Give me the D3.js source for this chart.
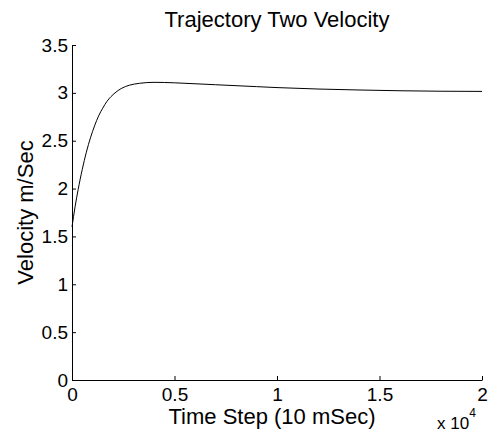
<!DOCTYPE html>
<html>
<head>
<meta charset="utf-8">
<script src="https://cdn.jsdelivr.net/npm/d3@7"></script>
<style>
  body { margin: 0; background: #fff; }
  text { font-family: Arial, "Liberation Sans", sans-serif; fill: #000; }
</style>
</head>
<body>
<svg width="489" height="433"></svg>
<script>
// time step and velocity
var timeSteps = [0, 150, 300, 500, 700, 900, 1100, 1300, 1500, 1700, 1900, 2100, 2400, 2800, 3300, 4000,
                 5000, 6000, 7000, 8000, 9000, 10000, 12000, 14000, 16000, 18000, 20000];
var velocity = [1.60, 1.81, 1.99, 2.20, 2.38, 2.53, 2.655, 2.76, 2.84, 2.91, 2.96, 3.0, 3.045, 3.08, 3.10, 3.11,
                3.105, 3.095, 3.085, 3.075, 3.065, 3.055, 3.04, 3.03, 3.022, 3.017, 3.015];
var xTicks = [0, 5000, 10000, 15000, 20000];
var yTicks = [0, 0.5, 1, 1.5, 2, 2.5, 3, 3.5];

var svg = d3.select("svg");
var mLeft = 72, mTop = 45, w = 410, h = 335;

var x = d3.scaleLinear().domain([0, 20000]).range([0, w]);
var y = d3.scaleLinear().domain([0, 3.5]).range([h, 0]);

var g = svg.append("g").attr("transform", "translate(" + mLeft + "," + mTop + ")");

var xAxis = d3.axisBottom(x).tickValues(xTicks).tickSizeInner(-4).tickSizeOuter(0)
    .tickPadding(6).tickFormat(function(d) { return d3.format("")(d / 10000); });
var yAxis = d3.axisLeft(y).tickValues(yTicks).tickSizeInner(-4).tickSizeOuter(0)
    .tickPadding(6).tickFormat(d3.format(""));

var gx = g.append("g").attr("transform", "translate(0," + h + ")").call(xAxis);
var gy = g.append("g").call(yAxis);

gx.selectAll("text").attr("font-size", 19).attr("font-family", "Arial, 'Liberation Sans', sans-serif").attr("dy", "0.75em").attr("y", 7);
gy.selectAll("text").attr("font-size", 19).attr("font-family", "Arial, 'Liberation Sans', sans-serif").attr("x", -4);
svg.selectAll(".domain").attr("stroke", "#000");
svg.selectAll(".tick line").attr("stroke", "#000");

var line = d3.line()
    .x(function(d, i) { return x(timeSteps[i]); })
    .y(function(d) { return y(d); })
    .curve(d3.curveMonotoneX);

g.append("path")
    .datum(velocity)
    .attr("fill", "none")
    .attr("stroke", "#000")
    .attr("stroke-width", 1)
    .attr("d", line);

svg.append("text")
    .attr("x", mLeft + w / 2)
    .attr("y", 27)
    .attr("text-anchor", "middle")
    .attr("font-size", 22)
    .text("Trajectory Two Velocity");

svg.append("text")
    .attr("x", mLeft + w / 2 - 5)
    .attr("y", 424)
    .attr("text-anchor", "middle")
    .attr("font-size", 22)
    .text("Time Step (10 mSec)");

svg.append("text")
    .attr("transform", "translate(33," + (mTop + h / 2) + ") rotate(-90)")
    .attr("text-anchor", "middle")
    .attr("font-size", 22)
    .text("Velocity m/Sec");

var exp = svg.append("text")
    .attr("x", 437)
    .attr("y", 429)
    .attr("font-size", 17);
exp.append("tspan").text("x 10");
exp.append("tspan").attr("dy", -12).attr("font-size", 12).text("4");
</script>
</body>
</html>
